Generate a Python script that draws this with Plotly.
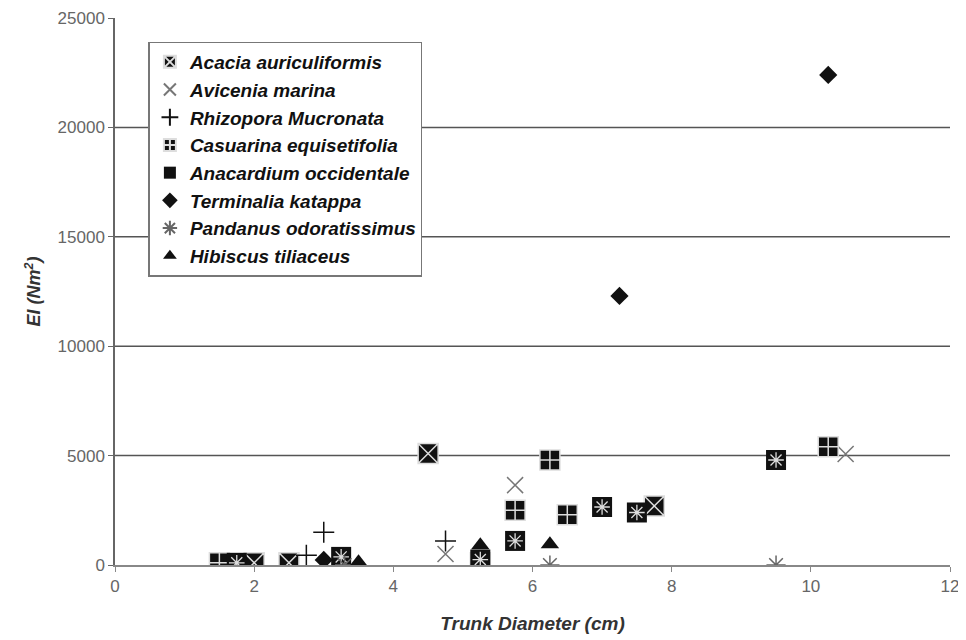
import plotly.graph_objects as go

# ---- data (Trunk diameter in cm, EI in Nm^2) ----
acacia_x = [2.0, 2.5, 4.5, 5.25, 7.75]
acacia_y = [100, 100, 5100, 100, 2700]

avicenia_x = [4.75, 5.75, 10.5]
avicenia_y = [500, 3650, 5070]

rhizopora_x = [2.75, 3.0, 4.75]
rhizopora_y = [450, 1500, 1100]

casuarina_x = [1.5, 5.75, 6.25, 6.5, 10.25]
casuarina_y = [100, 2500, 4800, 2300, 5400]

anacardium_x = [1.75, 3.25, 5.25, 5.75, 7.0, 7.5, 9.5]
anacardium_y = [100, 370, 250, 1100, 2650, 2400, 4800]

terminalia_x = [3.0, 7.25, 10.25]
terminalia_y = [230, 12300, 22400]

pandanus_x = [3.3, 6.25, 9.5]
pandanus_y = [0, 0, 0]

hibiscus_x = [3.5, 5.25, 6.25]
hibiscus_y = [130, 900, 950]

x_ticks = [0, 2, 4, 6, 8, 10, 12]
y_ticks = [0, 5000, 10000, 15000, 20000, 25000]
grid_levels = [5000, 10000, 15000, 20000]

fig = go.Figure()

def add(name, xs, ys, symbol, color, size, lcolor=None, lwidth=0, show=True, group=None):
    fig.add_trace(go.Scatter(
        x=xs, y=ys, mode="markers", name=name, showlegend=show,
        legendgroup=group or name,
        marker=dict(symbol=symbol, color=color, size=size,
                    line=dict(color=lcolor or color, width=lwidth)),
        hoverinfo="x+y+name",
    ))

add("Acacia auriculiformis", acacia_x, acacia_y, "square-x", "#111111", 20, "#dddddd", 1.5)
add("Avicenia marina", avicenia_x, avicenia_y, "x-thin-open", "#777777", 16, "#777777", 1.5)
add("Rhizopora Mucronata", rhizopora_x, rhizopora_y, "cross-thin-open", "#111111", 15, "#111111", 1.5)
add("Casuarina equisetifolia", casuarina_x, casuarina_y, "square-cross", "#111111", 20, "#dddddd", 1.5)
add("Anacardium occidentale", anacardium_x, anacardium_y, "square", "#111111", 20, "#111111", 0)
add("Anacardium occidentale", anacardium_x, anacardium_y, "asterisk-open", "#dddddd", 13, "#dddddd", 1.3,
    show=False, group="Anacardium occidentale")
add("Terminalia katappa", terminalia_x, terminalia_y, "diamond", "#111111", 14)
add("Pandanus odoratissimus", pandanus_x, pandanus_y, "asterisk-open", "#666666", 16, "#666666", 1.5)
add("Hibiscus tiliaceus", hibiscus_x, hibiscus_y, "triangle-up", "#111111", 16)

for g in grid_levels:
    fig.add_shape(type="line", xref="paper", x0=0, x1=1, yref="y", y0=g, y1=g,
                  line=dict(color="#555555", width=1.5), layer="below")

font_family = "Liberation Sans, Arial, sans-serif"

fig.update_layout(
    width=958, height=632,
    margin=dict(l=107, r=16, t=10, b=75, autoexpand=False),
    plot_bgcolor="white", paper_bgcolor="white",
    font=dict(family=font_family, size=17, color="#555555"),
    showlegend=True,
    legend=dict(
        x=0.04, y=0.957, xanchor="left", yanchor="top",
        bgcolor="white", bordercolor="#777777", borderwidth=1.5,
        font=dict(family=font_family, size=19, color="#111111", weight="bold", style="italic"),
        tracegroupgap=0, itemsizing="constant", itemwidth=30,
    ),
    xaxis=dict(
        range=[0, 12], tickvals=x_ticks, ticktext=[str(v) for v in x_ticks],
        automargin=False,
        showgrid=False, zeroline=False, showline=True, linecolor="#888888", linewidth=1.5,
        ticks="outside", ticklen=5, tickcolor="#888888",
        tickfont=dict(size=17, color="#666666"),
        title=dict(text="Trunk Diameter (cm)", standoff=22,
                   font=dict(size=19, color="#333333", weight="bold", style="italic")),
    ),
    yaxis=dict(
        range=[0, 25000], tickvals=y_ticks, ticktext=[str(v) for v in y_ticks],
        automargin=False,
        showgrid=False, zeroline=False, showline=True, linecolor="#666666", linewidth=1.5,
        ticks="outside", ticklen=5, tickcolor="#666666",
        tickfont=dict(size=17, color="#666666"),
        title=dict(text="EI (Nm<sup>2</sup>)", standoff=12,
                   font=dict(size=18, color="#333333", weight="bold", style="italic")),
    ),
)

fig.write_html("out.html")
